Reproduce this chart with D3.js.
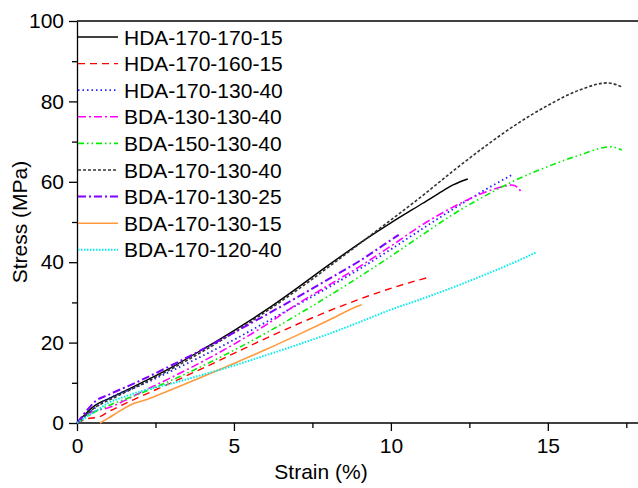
<!DOCTYPE html>
<html>
<head>
<meta charset="utf-8">
<script src="https://cdn.jsdelivr.net/npm/d3@7"></script>
<style>
  body { margin: 0; background: #fff; }
  text { font-family: Arial, "Liberation Sans", sans-serif; }
</style>
</head>
<body>
<svg id="chart" width="638" height="488"></svg>
<script>
// series names, in legend order
var names = [
  "HDA-170-170-15", "HDA-170-160-15", "HDA-170-130-40",
  "BDA-130-130-40", "BDA-150-130-40", "BDA-170-130-40",
  "BDA-170-130-25", "BDA-170-130-15", "BDA-170-120-40"
];

// [strain %, stress MPa]
var hda170170 = [[0,0],[0.3,2.5],[0.6,4.5],[1,6],[2,9.8],[3,13.8],[4,18.3],[5,23],[6,28],[7,33.5],[8,39.2],[9,44.7],[10,49.8],[11,54.6],[11.5,57],[12,59.3],[12.45,60.7]];
var hda170160 = [[0,0],[0.3,1],[0.7,1.5],[1,2.8],[1.5,4.7],[2,6.5],[3,10],[4,13.6],[5,17.3],[6,21],[7,24.5],[8,27.8],[9,30.8],[10,33.5],[11,35.8],[11.24,36.3]];
var hda170130 = [[0,0],[0.3,2],[0.7,4.5],[1,6],[2,9.3],[3,12.9],[4,16.7],[5,20.7],[6,25],[7,29.3],[8,33.7],[9,38.3],[10,43.2],[11,48.3],[12,53.3],[13,58],[13.85,61.7]];
var bda130130 = [[0,0],[0.3,2],[0.6,3],[1,3.8],[1.5,5.5],[2,7.5],[3,11.3],[4,15.3],[5,19.6],[6,24.3],[7,29.5],[8,34.2],[9,38.9],[10,44],[11,49.3],[12,53.8],[13,57.4],[13.6,58.9],[13.85,59.2],[14.05,58.5],[14.17,57.2]];
var bda150130 = [[0,0],[0.5,2.5],[1,4.3],[2,7.3],[3,10.6],[4,14.2],[5,18.1],[6,22.3],[7,26.8],[8,31.5],[9,36.4],[10,41.5],[11,46.8],[12,52],[13,56.5],[14,60.5],[15,63.8],[16,66.6],[17,68.7],[17.36,67.9]];
var bda170130_40 = [[0,0],[0.3,2],[0.6,4],[1,5.6],[2,9.4],[3,13.4],[4,17.8],[5,22.5],[6,27.6],[7,33],[8,38.7],[9,44.6],[10,50.5],[11,56.5],[12,62.8],[13,68.8],[14,74.3],[15,79],[16,82.8],[16.9,84.6],[17.36,83.6]];
var bda170130_25 = [[0,0],[0.3,3],[0.6,5.5],[1,7],[2,10.5],[3,14.3],[4,18.3],[5,22.5],[6,26.8],[7,31.2],[8,35.7],[9,40.3],[10,45.5],[10.25,46.8]];
var bda170130_15 = [[0.73,0],[1,1.2],[1.3,2.7],[1.7,4.5],[2.2,5.8],[3,8.3],[4,11.5],[5,14.8],[6,18.2],[7,21.8],[8,25.5],[9,29.2],[9.07,29.4]];
var bda170120 = [[0,0],[0.3,1.5],[0.7,3.5],[1,5],[1.5,6.5],[2,7.8],[3,9.8],[4,12],[5,14.3],[6,16.8],[7,19.4],[8,22.1],[9,25.1],[10,28.2],[11,30.9],[12,33.8],[13,36.9],[14,40.2],[14.65,42.5]];

var xTicks = [0, 5, 10, 15];
var yTicks = [0, 20, 40, 60, 80, 100];

var seriesData = [hda170170, hda170160, hda170130, bda130130, bda150130,
                  bda170130_40, bda170130_25, bda170130_15, bda170120];
var colors = ["#000000", "#ff0000", "#2020ff", "#ff00ff", "#00ee00",
              "#333333", "#7f00ff", "#ff9a3c", "#00eeee"];
var dashes = ["none", "7,5", "1.5,3", "8,3,2,3", "6,3,1.5,3,1.5,3",
              "3,2", "8,3,2,3", "none", "1.5,1.5"];
var widths = [1.4, 1.4, 1.8, 1.6, 1.6, 1.6, 2, 1.6, 2];

var svg = d3.select("#chart");
var margin = { top: 21, left: 77 };
var height = 402;

var x = d3.scaleLinear().domain([0, 18]).range([margin.left, margin.left + 565]);
var y = d3.scaleLinear().domain([0, 100]).range([margin.top + height, margin.top]);

// top border
svg.append("line")
  .attr("x1", margin.left).attr("x2", 638)
  .attr("y1", y(100)).attr("y2", y(100))
  .attr("stroke", "#000").attr("stroke-width", 1.3);

// minor ticks
svg.append("g")
  .attr("transform", "translate(0," + y(0) + ")")
  .call(d3.axisBottom(x).tickValues([2.5, 7.5, 12.5, 17.5]).tickSize(5).tickFormat(""))
  .call(function(g) { g.select(".domain").remove(); });
svg.append("g")
  .attr("transform", "translate(" + margin.left + ",0)")
  .call(d3.axisLeft(y).tickValues([10, 30, 50, 70, 90]).tickSize(5).tickFormat(""))
  .call(function(g) { g.select(".domain").remove(); });

// major axes
var xAxis = svg.append("g")
  .attr("transform", "translate(0," + y(0) + ")")
  .call(d3.axisBottom(x).tickValues(xTicks).tickSize(8).tickSizeOuter(0).tickPadding(7));
var yAxis = svg.append("g")
  .attr("transform", "translate(" + margin.left + ",0)")
  .call(d3.axisLeft(y).tickValues(yTicks).tickSize(8).tickSizeOuter(0).tickPadding(5));

svg.selectAll(".tick line, .domain").attr("stroke", "#000").attr("stroke-width", 1.3);
xAxis.selectAll("text").attr("font-size", 21).attr("fill", "#000")
  .attr("font-family", "Arial, 'Liberation Sans', sans-serif");
yAxis.selectAll("text").attr("font-size", 21).attr("fill", "#000")
  .attr("font-family", "Arial, 'Liberation Sans', sans-serif");
xAxis.select(".domain").attr("d", "M" + margin.left + ",0H638");

// axis titles
svg.append("text")
  .attr("x", 321).attr("y", 479)
  .attr("text-anchor", "middle")
  .attr("font-size", 21)
  .text("Strain (%)");
svg.append("text")
  .attr("transform", "translate(27," + (margin.top + height / 2) + ") rotate(-90)")
  .attr("text-anchor", "middle")
  .attr("font-size", 21)
  .text("Stress (MPa)");

// curves
var line = d3.line()
  .x(function(d) { return x(d[0]); })
  .y(function(d) { return y(d[1]); })
  .curve(d3.curveMonotoneX);

svg.append("g").selectAll("path")
  .data(seriesData)
  .enter()
  .append("path")
  .attr("d", line)
  .attr("fill", "none")
  .attr("stroke", function(d, i) { return colors[i]; })
  .attr("stroke-width", function(d, i) { return widths[i]; })
  .attr("stroke-dasharray", function(d, i) { return dashes[i]; });

// legend
var legend = svg.append("g").selectAll("g")
  .data(names)
  .enter()
  .append("g")
  .attr("transform", function(d, i) { return "translate(" + margin.left + "," + (37 + i * 26.6) + ")"; });

legend.append("line")
  .attr("x1", 1).attr("x2", 41)
  .attr("stroke", function(d, i) { return colors[i]; })
  .attr("stroke-width", function(d, i) { return widths[i]; })
  .attr("stroke-dasharray", function(d, i) { return dashes[i]; });

legend.append("text")
  .attr("x", 47)
  .attr("dy", "0.36em")
  .attr("font-size", 21)
  .attr("fill", "#000")
  .text(function(d) { return d; });
</script>
</body>
</html>
